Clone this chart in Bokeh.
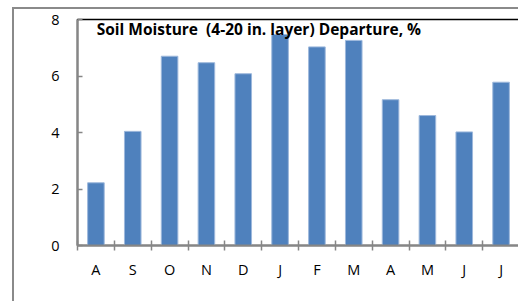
from bokeh.plotting import figure
from bokeh.models import Range1d, FixedTicker, Label
from bokeh.embed import file_html
from bokeh.resources import INLINE

months = ["A", "S", "O", "N", "D", "J", "F", "M", "A", "M", "J", "J"]
departure = [2.22, 4.04, 6.70, 6.47, 6.08, 7.47, 7.03, 7.26, 5.16, 4.60, 4.02, 5.78]
y_ticks = [0, 2, 4, 6, 8]
title = "Soil Moisture\u00a0 (4-20 in. layer) Departure, %"

FONT = "Open Sans"
GRAY = "#868686"

positions = list(range(len(months)))

p = figure(width=506, height=294, output_backend="svg", toolbar_location=None,
           x_range=Range1d(-0.5, len(months) - 0.5), y_range=Range1d(0, 8),
           min_border_left=63, min_border_top=10, min_border_right=1, min_border_bottom=58)
p.styles = {"position": "relative", "left": "12px", "top": "7px",
            "border-left": "2px solid #8a8a8a", "border-top": "2px solid #8a8a8a"}

p.vbar(x=positions, top=departure, width=0.45, bottom=0,
       fill_color="#4F81BD", line_color="#9DB8DC", line_width=1)

p.grid.visible = False
p.outline_line_color = "black"
p.outline_line_width = 1.5

xa = p.xaxis[0]
xa.ticker = FixedTicker(ticks=positions, minor_ticks=[i - 0.5 for i in range(len(months) + 1)])
xa.major_label_overrides = {i: m for i, m in enumerate(months)}
xa.major_tick_line_color = None
xa.minor_tick_line_color = GRAY
xa.minor_tick_line_width = 1.5
xa.minor_tick_in = 5
xa.minor_tick_out = 5
xa.axis_line_color = GRAY
xa.axis_line_width = 2
xa.major_label_standoff = 8
xa.major_label_text_font = FONT
xa.major_label_text_font_size = "14.5px"
xa.major_label_text_color = "black"

ya = p.yaxis[0]
ya.ticker = FixedTicker(ticks=y_ticks)
ya.minor_tick_line_color = None
ya.major_tick_in = 5
ya.major_tick_out = 0
ya.major_tick_line_color = GRAY
ya.major_tick_line_width = 1.5
ya.axis_line_color = GRAY
ya.axis_line_width = 2
ya.major_label_standoff = 18
ya.major_label_text_font = FONT
ya.major_label_text_font_size = "14.5px"
ya.major_label_text_color = "black"

p.add_layout(Label(x=-0.5 + 0.52, y=7.65, text=title, text_font=FONT,
                   text_font_size="15.5px", text_font_style="bold",
                   text_baseline="middle", text_color="black"))

open("out.html", "w").write(file_html(p, INLINE))
